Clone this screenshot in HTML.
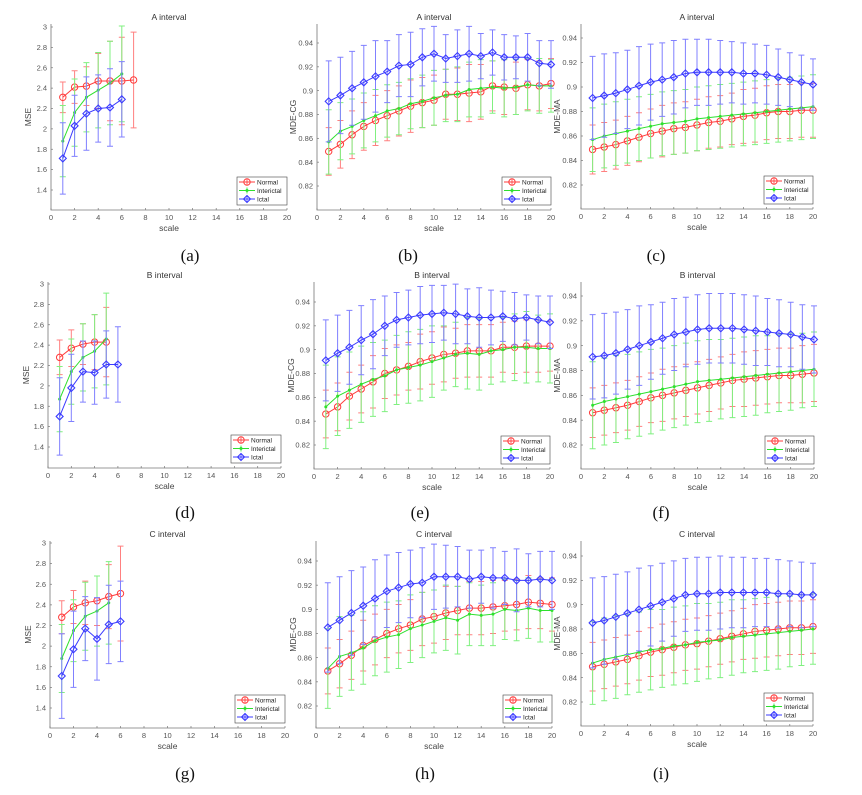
<!DOCTYPE html>
<html><head><meta charset="utf-8"><style>
body{margin:0;background:#fff;}
svg{display:block;font-family:"Liberation Sans",sans-serif;}
</style></head><body>
<svg id="fig" width="862" height="795" viewBox="0 0 862 795"></svg>
<script>
const scales=[1,2,3,4,5,6,7,8,9,10,11,12,13,14,15,16,17,18,19,20];
const seriesNames=["Normal","Interictal","Ictal"];
const mseTicks=[1.4,1.6,1.8,2,2.2,2.4,2.6,2.8,3];
const mdeTicks=[0.82,0.84,0.86,0.88,0.9,0.92,0.94];
const xTicks=[0,2,4,6,8,10,12,14,16,18,20];

// (a)
const aN=[2.31,2.41,2.42,2.47,2.47,2.47,2.48];
const aNe=[0.15,0.16,0.19,0.27,0.39,0.43,0.47];
const aI=[1.88,2.16,2.31,2.38,2.45,2.54];
const aIe=[0.35,0.33,0.34,0.37,0.41,0.47];
const aC=[1.71,2.03,2.15,2.20,2.21,2.29];
const aCe=[0.35,0.30,0.36,0.33,0.38,0.37];
// (b)
const bN=[0.849,0.855,0.863,0.870,0.875,0.879,0.883,0.887,0.890,0.892,0.897,0.897,0.898,0.899,0.904,0.903,0.902,0.905,0.904,0.906];
const bNe=[0.02,0.02,0.02,0.02,0.021,0.021,0.021,0.022,0.021,0.021,0.021,0.022,0.024,0.023,0.021,0.023,0.022,0.021,0.021,0.021];
const bI=[0.857,0.866,0.870,0.875,0.879,0.883,0.885,0.889,0.891,0.894,0.896,0.897,0.901,0.902,0.903,0.902,0.903,0.905,0.904,0.904];
const bIe=[0.027,0.024,0.023,0.023,0.022,0.022,0.022,0.021,0.022,0.023,0.022,0.023,0.023,0.024,0.022,0.024,0.023,0.022,0.023,0.022];
const bC=[0.891,0.896,0.902,0.907,0.912,0.916,0.921,0.922,0.928,0.931,0.927,0.929,0.931,0.929,0.932,0.928,0.928,0.928,0.923,0.922];
const bCe=[0.034,0.032,0.031,0.031,0.030,0.026,0.026,0.027,0.024,0.023,0.020,0.022,0.023,0.019,0.019,0.019,0.018,0.020,0.019,0.020];
// (c)
const cN=[0.849,0.851,0.853,0.856,0.859,0.862,0.864,0.866,0.867,0.869,0.871,0.872,0.874,0.876,0.877,0.879,0.880,0.880,0.881,0.881];
const cNe=[0.020,0.020,0.020,0.020,0.020,0.020,0.021,0.021,0.021,0.021,0.021,0.021,0.021,0.022,0.022,0.022,0.022,0.022,0.022,0.022];
const cI=[0.857,0.860,0.862,0.864,0.866,0.868,0.870,0.871,0.872,0.874,0.875,0.876,0.877,0.878,0.879,0.880,0.881,0.882,0.883,0.884];
const cIe=[0.026,0.026,0.026,0.026,0.026,0.026,0.026,0.026,0.026,0.026,0.026,0.026,0.026,0.026,0.026,0.026,0.026,0.026,0.026,0.026];
const cC=[0.891,0.893,0.895,0.898,0.901,0.904,0.906,0.908,0.911,0.912,0.912,0.912,0.912,0.911,0.911,0.910,0.908,0.906,0.904,0.902];
const cCe=[0.034,0.034,0.033,0.032,0.032,0.031,0.030,0.030,0.028,0.027,0.027,0.026,0.025,0.025,0.024,0.024,0.023,0.022,0.022,0.021];
// (d)
const dN=[2.28,2.37,2.41,2.43,2.43];
const dNe=[0.17,0.18,0.20,0.27,0.34];
const dI=[1.87,2.14,2.28,2.34,2.46];
const dIe=[0.32,0.32,0.33,0.36,0.45];
const dC=[1.70,1.98,2.14,2.13,2.21,2.21];
const dCe=[0.38,0.33,0.30,0.31,0.33,0.37];
// (e)
const eN=[0.846,0.852,0.861,0.867,0.873,0.880,0.883,0.886,0.890,0.893,0.896,0.897,0.899,0.899,0.899,0.902,0.902,0.903,0.903,0.903];
const eNe=[0.02,0.02,0.02,0.02,0.022,0.021,0.021,0.02,0.023,0.022,0.023,0.021,0.022,0.022,0.022,0.021,0.022,0.022,0.022,0.021];
const eI=[0.852,0.861,0.866,0.871,0.875,0.878,0.883,0.885,0.887,0.890,0.893,0.896,0.897,0.896,0.899,0.900,0.902,0.902,0.901,0.901];
const eIe=[0.035,0.033,0.032,0.032,0.031,0.030,0.029,0.030,0.030,0.030,0.027,0.027,0.030,0.030,0.028,0.027,0.028,0.030,0.028,0.029];
const eC=[0.891,0.897,0.902,0.908,0.913,0.920,0.925,0.927,0.929,0.930,0.931,0.930,0.928,0.927,0.927,0.928,0.926,0.927,0.925,0.923];
const eCe=[0.034,0.032,0.031,0.029,0.029,0.025,0.023,0.023,0.024,0.024,0.023,0.025,0.023,0.025,0.023,0.021,0.022,0.019,0.020,0.022];
// (f)
const fN=[0.846,0.848,0.850,0.852,0.855,0.858,0.860,0.862,0.864,0.866,0.868,0.870,0.872,0.873,0.874,0.875,0.876,0.876,0.877,0.878];
const fNe=[0.020,0.020,0.020,0.020,0.020,0.020,0.021,0.021,0.021,0.021,0.021,0.021,0.021,0.022,0.022,0.022,0.022,0.022,0.023,0.023];
const fI=[0.852,0.855,0.857,0.859,0.861,0.863,0.865,0.867,0.869,0.871,0.872,0.873,0.874,0.875,0.876,0.877,0.878,0.879,0.880,0.881];
const fIe=[0.035,0.035,0.035,0.034,0.034,0.034,0.033,0.033,0.033,0.033,0.033,0.032,0.032,0.032,0.032,0.031,0.031,0.031,0.030,0.030];
const fC=[0.891,0.892,0.894,0.897,0.900,0.903,0.906,0.909,0.911,0.913,0.914,0.914,0.914,0.913,0.912,0.911,0.910,0.909,0.907,0.905];
const fCe=[0.034,0.034,0.033,0.032,0.032,0.030,0.029,0.029,0.028,0.028,0.028,0.028,0.028,0.028,0.028,0.027,0.027,0.026,0.026,0.027];
// (g)
const gN=[2.28,2.38,2.42,2.44,2.48,2.51];
const gNe=[0.16,0.16,0.21,0.24,0.31,0.46];
const gI=[1.88,2.15,2.29,2.34,2.42];
const gIe=[0.33,0.30,0.33,0.34,0.40];
const gC=[1.71,1.97,2.17,2.07,2.21,2.24];
const gCe=[0.41,0.37,0.31,0.40,0.38,0.39];
// (h)
const hN=[0.849,0.855,0.862,0.870,0.875,0.880,0.884,0.887,0.892,0.894,0.897,0.899,0.901,0.901,0.902,0.903,0.904,0.906,0.905,0.904];
const hNe=[0.019,0.02,0.02,0.021,0.021,0.02,0.02,0.021,0.022,0.022,0.022,0.02,0.022,0.022,0.022,0.021,0.021,0.022,0.021,0.022];
const hI=[0.851,0.861,0.864,0.868,0.874,0.877,0.879,0.884,0.887,0.890,0.893,0.891,0.896,0.895,0.896,0.900,0.899,0.901,0.899,0.899];
const hIe=[0.033,0.033,0.031,0.030,0.029,0.029,0.028,0.028,0.027,0.026,0.027,0.028,0.026,0.025,0.026,0.025,0.025,0.025,0.026,0.026];
const hC=[0.885,0.891,0.897,0.903,0.909,0.915,0.918,0.921,0.922,0.927,0.927,0.927,0.925,0.927,0.926,0.926,0.924,0.924,0.925,0.924];
const hCe=[0.037,0.036,0.035,0.032,0.032,0.030,0.029,0.028,0.029,0.027,0.026,0.025,0.024,0.022,0.025,0.022,0.026,0.022,0.023,0.024];
// (i)
const iN=[0.849,0.851,0.853,0.855,0.858,0.861,0.863,0.865,0.867,0.868,0.870,0.872,0.874,0.876,0.878,0.879,0.880,0.881,0.881,0.882];
const iNe=[0.020,0.020,0.020,0.020,0.020,0.020,0.021,0.021,0.021,0.021,0.021,0.021,0.021,0.021,0.022,0.022,0.022,0.022,0.022,0.022];
const iI=[0.852,0.855,0.857,0.859,0.861,0.863,0.864,0.866,0.867,0.869,0.870,0.871,0.873,0.874,0.875,0.876,0.877,0.878,0.879,0.880];
const iIe=[0.034,0.034,0.034,0.033,0.033,0.033,0.032,0.032,0.032,0.032,0.031,0.031,0.031,0.030,0.030,0.030,0.030,0.029,0.029,0.029];
const iC=[0.885,0.887,0.890,0.893,0.896,0.899,0.902,0.905,0.908,0.909,0.909,0.910,0.910,0.910,0.910,0.910,0.909,0.909,0.908,0.908];
const iCe=[0.037,0.036,0.035,0.034,0.034,0.033,0.032,0.031,0.030,0.030,0.030,0.030,0.029,0.029,0.028,0.028,0.028,0.027,0.027,0.026];

const NS="http://www.w3.org/2000/svg";
const svg=document.getElementById('fig');
const COLORS=["#ff3b3b","#2ee02e","#3b3bff"];
const ERRC=["#ff8080","#80f080","#8080ff"];
function mk(tag,attrs,parent){const e=document.createElementNS(NS,tag);for(const k in attrs)e.setAttribute(k,attrs[k]);(parent||svg).appendChild(e);return e;}

const panels=[
 {id:"a",title:"A interval",ylab:"MSE",mse:true,x0:51,x20:287,yA:27,vA:3,yB:190,vB:1.4,bot:210,top:24,ylx:31,lab:[190,255],d:[[aN,aNe],[aI,aIe],[aC,aCe]]},
 {id:"b",title:"A interval",ylab:"MDE-CG",mse:false,x0:317,x20:551,yA:43,vA:0.94,yB:186,vB:0.82,bot:210,top:24,ylx:296,lab:[408,255],d:[[bN,bNe],[bI,bIe],[bC,bCe]]},
 {id:"c",title:"A interval",ylab:"MDE-MA",mse:false,x0:581,x20:813,yA:38,vA:0.94,yB:185,vB:0.82,bot:209,top:24,ylx:560,lab:[656,255],d:[[cN,cNe],[cI,cIe],[cC,cCe]]},
 {id:"d",title:"B interval",ylab:"MSE",mse:true,x0:48,x20:281,yA:284,vA:3,yB:447,vB:1.4,bot:468,top:282,ylx:29,lab:[185,512],d:[[dN,dNe],[dI,dIe],[dC,dCe]]},
 {id:"e",title:"B interval",ylab:"MDE-CG",mse:false,x0:314,x20:550,yA:302,vA:0.94,yB:445,vB:0.82,bot:469,top:282,ylx:294,lab:[420,512],d:[[eN,eNe],[eI,eIe],[eC,eCe]]},
 {id:"f",title:"B interval",ylab:"MDE-MA",mse:false,x0:581,x20:814,yA:296,vA:0.94,yB:445,vB:0.82,bot:469,top:282,ylx:560,lab:[661,512],d:[[fN,fNe],[fI,fIe],[fC,fCe]]},
 {id:"g",title:"C interval",ylab:"MSE",mse:true,x0:50,x20:285,yA:543,vA:3,yB:708,vB:1.4,bot:728,top:541,ylx:31,lab:[185,773],d:[[gN,gNe],[gI,gIe],[gC,gCe]]},
 {id:"h",title:"C interval",ylab:"MDE-CG",mse:false,x0:316,x20:552,yA:561,vA:0.94,yB:706,vB:0.82,bot:728,top:541,ylx:296,lab:[425,773],d:[[hN,hNe],[hI,hIe],[hC,hCe]]},
 {id:"i",title:"C interval",ylab:"MDE-MA",mse:false,x0:581,x20:813,yA:556,vA:0.94,yB:702,vB:0.82,bot:726,top:541,ylx:560,lab:[661,773],d:[[iN,iNe],[iI,iIe],[iC,iCe]]}
];

function marker(g,k,x,y){
  const c=COLORS[k];
  if(k===0){mk('circle',{cx:x,cy:y,r:3.2,fill:'none',stroke:c,'stroke-width':1},g);}
  else if(k===1){mk('circle',{cx:x,cy:y,r:1.5,fill:c},g);}
  else{mk('path',{d:`M${x-3.5},${y}L${x},${y-3.5}L${x+3.5},${y}L${x},${y+3.5}Z`,fill:'none',stroke:c,'stroke-width':1.1},g);}
}

panels.forEach(p=>{
  const g=mk('g',{});
  
  
  const X=v=>p.x0+(p.x20-p.x0)*v/20;
  const Y=v=>p.yB+(p.yA-p.yB)*(v-p.vB)/(p.vA-p.vB);
  // axes
  const ax=mk('path',{d:`M${p.x0},${p.top}V${p.bot}H${p.x20}`,fill:'none',stroke:'#777','stroke-width':0.8},g);
  
  
  xTicks.forEach(t=>{
    mk('line',{x1:X(t),x2:X(t),y1:p.bot,y2:p.bot-2,stroke:'#777','stroke-width':0.7},g);
    const tx=mk('text',{x:X(t),y:p.bot+10,'font-size':7.5,fill:'#555','text-anchor':'middle'},g);
    tx.textContent=t;
    
    
  });
  const yt=p.mse?mseTicks:mdeTicks;
  yt.forEach(t=>{
    const y=Y(t);
    mk('line',{x1:p.x0,x2:p.x0+2,y1:y,y2:y,stroke:'#777','stroke-width':0.7},g);
    const tx=mk('text',{x:p.x0-4,y:y+2.6,'font-size':7.5,fill:'#555','text-anchor':'end'},g);
    tx.textContent=String(t);
    
    
  });
  const tt=mk('text',{x:(p.x0+p.x20)/2,y:p.top-4,'font-size':8.5,fill:'#333','text-anchor':'middle'},g);
  tt.textContent=p.title;
  
  
  const xl=mk('text',{x:(p.x0+p.x20)/2,y:p.bot+21,'font-size':8.5,fill:'#444','text-anchor':'middle'},g);
  xl.textContent='scale';
  
  
  const ymid=(p.top+p.bot)/2;
  const yl=mk('text',{x:p.ylx,y:ymid,'font-size':8.5,fill:'#444','text-anchor':'middle',transform:`rotate(-90 ${p.ylx} ${ymid})`},g);
  yl.textContent=p.ylab;
  
  
  // series
  p.d.forEach((s,k)=>{
    const m=s[0],e=s[1];
    const sg=mk('g',{},g);
    
    
    m.forEach((v,i)=>{
      const x=X(scales[i]),y1=Y(v+e[i]),y2=Y(v-e[i]);
      const eb=mk('path',{d:`M${x},${y1}V${y2}M${x-3},${y1}H${x+3}M${x-3},${y2}H${x+3}`,stroke:ERRC[k],'stroke-width':1,fill:'none'},sg);
      
      
    });
    const d=m.map((v,i)=>(i?'L':'M')+X(scales[i])+','+Y(v)).join('');
    const ln=mk('path',{d:d,stroke:COLORS[k],'stroke-width':1,fill:'none'},sg);
    
    
    m.forEach((v,i)=>marker(sg,k,X(scales[i]),Y(v)));
  });
  // legend
  const lw=p.mse?50:49,lh=28,lx=p.x20-lw,ly=p.bot-lh-5;
  const lg=mk('g',{},g);
  
  
  mk('rect',{x:lx,y:ly,width:lw,height:lh,fill:'#fff',stroke:'#444','stroke-width':0.6},lg);
  seriesNames.forEach((n,k)=>{
    const y=ly+5+k*8.5;
    mk('line',{x1:lx+2,x2:lx+18,y1:y,y2:y,stroke:COLORS[k],'stroke-width':1},lg);
    mk('line',{x1:lx+10,x2:lx+10,y1:y-3,y2:y+3,stroke:COLORS[k],'stroke-width':0.8},lg);
    marker(lg,k,lx+10,y);
    const t=mk('text',{x:lx+20,y:y+2.5,'font-size':6.5,fill:'#222'},lg);
    t.textContent=n;
    
    
  });
  const pl=mk('text',{x:p.lab[0],y:p.lab[1]+6,'font-size':17,'font-family':'"Liberation Serif",serif',fill:'#111','text-anchor':'middle'},g);
  pl.textContent='('+p.id+')';
  
  
});
</script>
</body></html>
